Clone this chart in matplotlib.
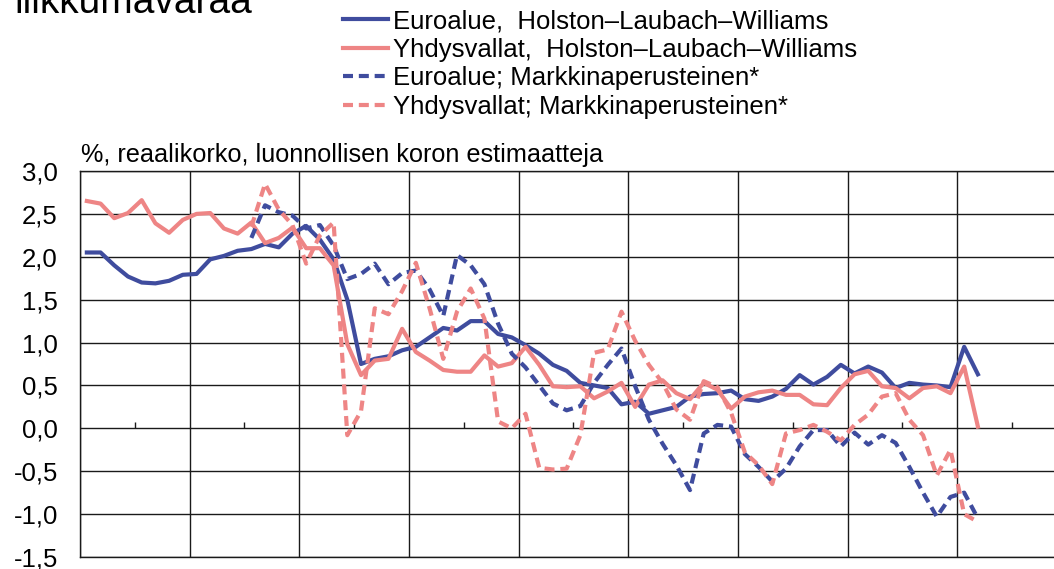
import numpy as np
import matplotlib
matplotlib.use("Agg")
import matplotlib.pyplot as plt
from matplotlib.ticker import FuncFormatter, FixedLocator

plt.rcParams['font.family'] = ['Liberation Sans', 'DejaVu Sans']

nan = np.nan

# Quarterly observations (66 quarters), values in %
euro_hlw = [2.05, 2.05, 1.90, 1.77, 1.70, 1.69, 1.72, 1.79, 1.80, 1.97,
            2.01, 2.07, 2.09, 2.15, 2.11, 2.27, 2.36, 2.20, 1.97, 1.50,
            0.75, 0.81, 0.84, 0.91, 0.95, 1.06, 1.17, 1.14, 1.25, 1.25,
            1.10, 1.06, 0.97, 0.87, 0.74, 0.67, 0.53, 0.50, 0.47, 0.28,
            0.31, 0.17, 0.21, 0.25, 0.37, 0.40, 0.41, 0.44, 0.34, 0.32,
            0.37, 0.46, 0.62, 0.51, 0.60, 0.74, 0.64, 0.72, 0.65, 0.47,
            0.53, 0.51, 0.50, 0.48, 0.95, 0.63]

us_hlw = [2.65, 2.62, 2.45, 2.51, 2.66, 2.39, 2.28, 2.43, 2.50, 2.51,
          2.33, 2.27, 2.40, 2.16, 2.22, 2.34, 2.10, 2.10, 1.90, 0.98,
          0.62, 0.79, 0.81, 1.16, 0.89, 0.79, 0.68, 0.66, 0.66, 0.85,
          0.72, 0.76, 0.95, 0.74, 0.49, 0.48, 0.49, 0.35, 0.43, 0.53,
          0.25, 0.51, 0.56, 0.41, 0.34, 0.53, 0.45, 0.23, 0.37, 0.42,
          0.44, 0.39, 0.39, 0.28, 0.27, 0.47, 0.63, 0.67, 0.49, 0.47,
          0.35, 0.47, 0.49, 0.41, 0.72, 0.02]

euro_mkt = [nan] * 12 + [
            2.22, 2.60, 2.52, 2.48, 2.33, 2.37, 2.13, 1.74,
            1.80, 1.92, 1.68, 1.81, 1.84, 1.62, 1.31, 2.02, 1.90, 1.68,
            1.22, 0.87, 0.71, 0.50, 0.29, 0.21, 0.26, 0.53, 0.74, 0.93,
            0.49, 0.10, -0.18, -0.43, -0.72, -0.06, 0.04, 0.02, -0.30, -0.45,
            -0.62, -0.47, -0.21, -0.02, -0.02, -0.21, -0.05, -0.19, -0.08, -0.17,
            -0.45, -0.75, -1.03, -0.80, -0.75, -1.05]

us_mkt = [nan] * 12 + [
          2.35, 2.85, 2.55, 2.37, 1.92, 2.25, 2.40, -0.08,
          0.20, 1.40, 1.33, 1.60, 1.93, 1.40, 0.81, 1.36, 1.63, 1.28,
          0.08, 0.00, 0.17, -0.46, -0.48, -0.47, -0.08, 0.88, 0.92, 1.36,
          1.02, 0.74, 0.53, 0.22, 0.10, 0.55, 0.48, 0.18, -0.28, -0.43,
          -0.65, -0.06, -0.02, 0.04, -0.04, -0.14, 0.04, 0.16, 0.37, 0.41,
          0.10, -0.08, -0.55, -0.25, -1.00, -1.09]

labels = ["Euroalue,  Holston\u2013Laubach\u2013Williams",
          "Yhdysvallat,  Holston\u2013Laubach\u2013Williams",
          "Euroalue; Markkinaperusteinen*",
          "Yhdysvallat; Markkinaperusteinen*"]

title = "liikkumavaraa"
subtitle = "%, reaalikorko, luonnollisen koron estimaatteja"

BLUE = "#3F4C9E"
PINK = "#EE8585"

W, H = 1054, 569
fig = plt.figure(figsize=(W / 100, H / 100), dpi=100)
ax = fig.add_axes([80 / W, 1 - 557 / H, (1067 - 80) / W, (557 - 171) / H])

n_cat = 72
x = np.arange(len(euro_hlw)) + 0.5

lw = 3.0
dash = (2.4, 1.4)
l1, = ax.plot(x, euro_hlw, color=BLUE, lw=lw, solid_joinstyle='round')
l2, = ax.plot(x, us_hlw, color=PINK, lw=lw, solid_joinstyle='round')
l3, = ax.plot(x, euro_mkt, color=BLUE, lw=lw, dashes=dash)
l4, = ax.plot(x, us_mkt, color=PINK, lw=lw, dashes=dash)

ax.set_xlim(0, n_cat)
ax.set_ylim(-1.5, 3.0)
ax.set_yticks(np.arange(-1.5, 3.01, 0.5))
ax.yaxis.set_major_formatter(FuncFormatter(lambda v, p: f"{v:.1f}".replace('.', ',')))
ax.set_xticks(np.arange(0, n_cat + 1, 8))
ax.set_xticklabels([])
ax.tick_params(axis='both', length=0)
ax.tick_params(axis='y', labelsize=18.5, pad=16)
ax.grid(True, color='#1a1a1a', lw=1.0)
ax.set_axisbelow(True)
for s in ax.spines.values():
    s.set_color('#1a1a1a')
    s.set_linewidth(1.0)

# small tick marks on the zero line, pointing upward
sec = ax.secondary_xaxis(1.5 / 4.5)
sec.set_alignment('top')
sec.xaxis.set_major_locator(FixedLocator(np.arange(4, n_cat, 8)))
sec.tick_params(direction='out', length=4, width=1.0, color='#1a1a1a',
                labelbottom=False, labeltop=False)
sec.spines['bottom'].set_visible(False)
sec.spines['top'].set_visible(False)

fig.legend([l1, l2, l3, l4], labels, loc='upper left',
           bbox_to_anchor=(343 / W, 1 - 9 / H), bbox_transform=fig.transFigure,
           frameon=False, fontsize=18.5, handlelength=1.75, handletextpad=0.2,
           labelspacing=0.18, borderpad=0, borderaxespad=0)

fig.text(14 / W, 1 - 13 / H, title, fontsize=28, va='baseline', ha='left')
fig.text(81 / W, 1 - 155 / H, subtitle, fontsize=18.2, va='center', ha='left')

fig.savefig("out.png", dpi=100)
